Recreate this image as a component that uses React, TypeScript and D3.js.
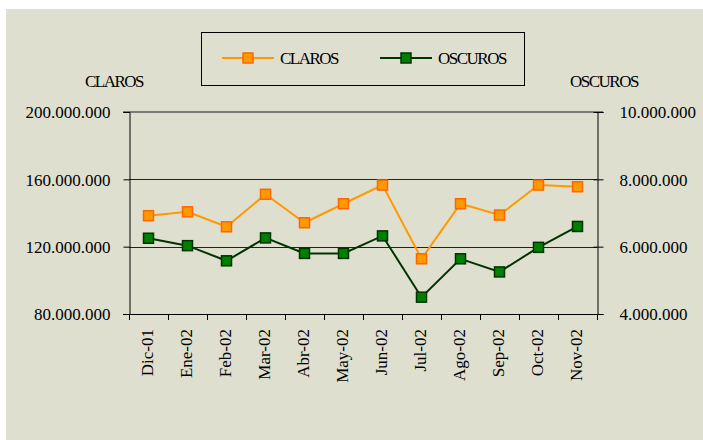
import React, { useEffect, useRef } from "react";
import * as d3 from "d3";

const months = ["Dic-01", "Ene-02", "Feb-02", "Mar-02", "Abr-02", "May-02", "Jun-02", "Jul-02", "Ago-02", "Sep-02", "Oct-02", "Nov-02"];
const claros = [138.4, 140.7, 131.8, 151.1, 134.2, 145.5, 156.6, 112.8, 145.5, 138.8, 156.6, 155.6].map((v) => v * 1e6);
const oscuros = [6.25, 6.03, 5.58, 6.26, 5.8, 5.8, 6.32, 4.5, 5.64, 5.25, 5.98, 6.6].map((v) => v * 1e6);
const leftTicks = [80e6, 120e6, 160e6, 200e6];
const rightTicks = [4e6, 6e6, 8e6, 10e6];

const W = 703;
const H = 440;
const FONT = "Liberation Serif, serif";
const fmt = (v: number) => d3.format(",")(v).replace(/,/g, ".");

const App = () => {
  const ref = useRef<SVGSVGElement>(null);

  useEffect(() => {
    const svg = d3.select(ref.current);
    svg.selectAll("*").remove();

    const m = { left: 129, right: 597, top: 112, bottom: 314 };

    svg.append("rect").attr("x", 6).attr("y", 9).attr("width", W - 6).attr("height", H - 9).attr("fill", "#dfdfd0");

    const x = d3.scaleBand().domain(months).range([m.left, m.right]);
    const yL = d3.scaleLinear().domain([80e6, 200e6]).range([m.bottom, m.top]);
    const yR = d3.scaleLinear().domain([4e6, 10e6]).range([m.bottom, m.top]);

    // grid lines at 120M and 160M
    svg
      .append("g")
      .selectAll("line")
      .data(leftTicks.slice(1, 3))
      .join("line")
      .attr("x1", m.left)
      .attr("x2", m.right)
      .attr("y1", (d) => Math.round(yL(d)) + 0.5)
      .attr("y2", (d) => Math.round(yL(d)) + 0.5)
      .attr("stroke", "#222")
      .attr("stroke-width", 1);

    // grey top border of the plot
    svg
      .append("line")
      .attr("x1", m.left - 6)
      .attr("x2", m.right + 6)
      .attr("y1", yL(200e6))
      .attr("y2", yL(200e6))
      .attr("stroke", "#7a7a7a")
      .attr("stroke-width", 2);

    // left axis
    const gl = svg.append("g").attr("transform", `translate(${m.left + 0.5},0)`).call(d3.axisLeft(yL).tickValues(leftTicks).tickFormat((d) => fmt(+d)).tickSize(6).tickPadding(13));
    gl.select(".domain").attr("stroke", "#000");
    gl.selectAll("text").attr("font-family", FONT).attr("font-size", 17).attr("fill", "#000").attr("dy", "0.35em");

    // right axis
    const gr = svg.append("g").attr("transform", `translate(${m.right + 0.5},0)`).call(d3.axisRight(yR).tickValues(rightTicks).tickFormat((d) => fmt(+d)).tickSize(6).tickPadding(16));
    gr.select(".domain").attr("stroke", "#000");
    gr.selectAll(".tick line").attr("x1", -4);
    gr.selectAll("text").attr("font-family", FONT).attr("font-size", 17).attr("fill", "#000").attr("dy", "0.35em");

    // bottom axis
    svg
      .append("line")
      .attr("x1", m.left - 6)
      .attr("x2", m.right + 6)
      .attr("y1", m.bottom + 0.5)
      .attr("y2", m.bottom + 0.5)
      .attr("stroke", "#000");
    const bounds = months.map((d) => x(d) as number).concat([m.right]);
    svg
      .append("g")
      .selectAll("line")
      .data(bounds)
      .join("line")
      .attr("x1", (d) => Math.round(d) + 0.5)
      .attr("x2", (d) => Math.round(d) + 0.5)
      .attr("y1", m.bottom)
      .attr("y2", m.bottom + 6)
      .attr("stroke", "#000");
    svg
      .append("g")
      .selectAll("text")
      .data(months)
      .join("text")
      .attr("transform", (d) => `translate(${(x(d) as number) + x.bandwidth() / 2 + 4},${m.bottom + 15}) rotate(-90)`)
      .attr("text-anchor", "end")
      .attr("font-family", FONT)
      .attr("font-size", 17)
      .text((d) => d);

    // axis titles
    svg.append("text").attr("x", 85).attr("y", 87).attr("font-family", FONT).attr("font-size", 17).attr("letter-spacing", -1.5).text("CLAROS");
    svg.append("text").attr("x", 570).attr("y", 87).attr("font-family", FONT).attr("font-size", 17).attr("letter-spacing", -1.5).text("OSCUROS");

    const cx = (d: string) => (x(d) as number) + x.bandwidth() / 2;
    const series = [
      { vals: claros, y: yL, line: "#ff9900", fill: "#ff9900", stroke: "#ff6600" },
      { vals: oscuros, y: yR, line: "#003300", fill: "#008000", stroke: "#003300" },
    ];
    series.forEach((s) => {
      const line = d3
        .line<number>()
        .x((_, i) => cx(months[i]))
        .y((d) => s.y(d));
      svg.append("path").attr("d", line(s.vals)).attr("fill", "none").attr("stroke", s.line).attr("stroke-width", 2);
      svg
        .append("g")
        .selectAll("rect")
        .data(s.vals)
        .join("rect")
        .attr("x", (_, i) => cx(months[i]) - 5)
        .attr("y", (d) => s.y(d) - 5)
        .attr("width", 10)
        .attr("height", 10)
        .attr("fill", s.fill)
        .attr("stroke", s.stroke)
        .attr("stroke-width", 1.5);
    });

    // legend
    svg.append("rect").attr("x", 201.5).attr("y", 32.5).attr("width", 323).attr("height", 53).attr("fill", "none").attr("stroke", "#000");
    const legend = [
      { name: "CLAROS", x0: 222, s: series[0] },
      { name: "OSCUROS", x0: 380, s: series[1] },
    ];
    legend.forEach((l) => {
      const ly = 58;
      svg.append("line").attr("x1", l.x0).attr("x2", l.x0 + 52).attr("y1", ly).attr("y2", ly).attr("stroke", l.s.line).attr("stroke-width", 2);
      svg.append("rect").attr("x", l.x0 + 21).attr("y", ly - 5).attr("width", 10).attr("height", 10).attr("fill", l.s.fill).attr("stroke", l.s.stroke).attr("stroke-width", 1.5);
      svg.append("text").attr("x", l.x0 + 58).attr("y", ly + 6).attr("font-family", FONT).attr("font-size", 17).attr("letter-spacing", -1.5).text(l.name);
    });
  }, []);

  return <svg ref={ref} width={W} height={H} style={{ position: "absolute", left: 0, top: 0, background: "#fff" }} />;
};

export default App;
